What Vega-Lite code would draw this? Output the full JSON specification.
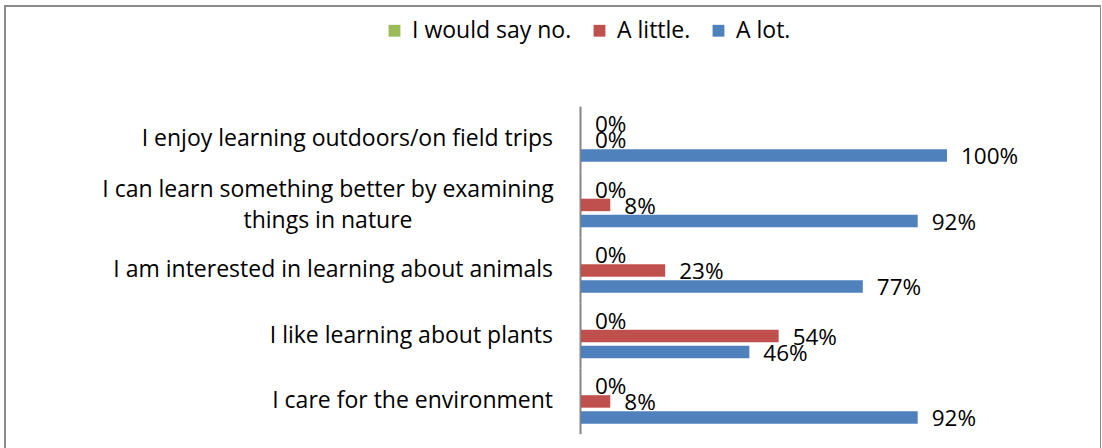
{
  "$schema": "https://vega.github.io/schema/vega-lite/v6.json",
  "width": 1096,
  "height": 450,
  "autosize": {"type": "none"},
  "padding": {"left": 5, "top": 6, "right": 0, "bottom": 0},
  "background": "white",
  "config": {
    "view": {"stroke": "#8c8c8c", "strokeWidth": 2},
    "font": "Open Sans",
    "text": {"color": "#000000"}
  },
  "data": {
    "values": [
      {"category": "I enjoy learning outdoors/on field trips", "series": "I would say no.", "value": 0},
      {"category": "I enjoy learning outdoors/on field trips", "series": "A little.", "value": 0},
      {"category": "I enjoy learning outdoors/on field trips", "series": "A lot.", "value": 1.0},
      {"category": "I can learn something better by examining\nthings in nature", "series": "I would say no.", "value": 0},
      {"category": "I can learn something better by examining\nthings in nature", "series": "A little.", "value": 0.08},
      {"category": "I can learn something better by examining\nthings in nature", "series": "A lot.", "value": 0.92},
      {"category": "I am interested in learning about animals", "series": "I would say no.", "value": 0},
      {"category": "I am interested in learning about animals", "series": "A little.", "value": 0.23},
      {"category": "I am interested in learning about animals", "series": "A lot.", "value": 0.77},
      {"category": "I like learning about plants", "series": "I would say no.", "value": 0},
      {"category": "I like learning about plants", "series": "A little.", "value": 0.54},
      {"category": "I like learning about plants", "series": "A lot.", "value": 0.46},
      {"category": "I care for the environment", "series": "I would say no.", "value": 0},
      {"category": "I care for the environment", "series": "A little.", "value": 0.08},
      {"category": "I care for the environment", "series": "A lot.", "value": 0.92}
    ]
  },
  "encoding": {
    "y": {
      "field": "category",
      "type": "nominal",
      "sort": null,
      "scale": {"paddingInner": 0, "paddingOuter": 0.935, "align": 0.822},
      "axis": null
    },
    "x": {
      "field": "value",
      "type": "quantitative",
      "scale": {"domain": [-1.5738, 1.4208], "nice": false, "zero": false},
      "axis": null
    }
  },
  "layer": [
    {
      "transform": [{"filter": "datum.series == 'A lot.'"}],
      "mark": {"type": "bar", "color": "#868686"},
      "encoding": {
        "x": {"datum": -0.0041, "type": "quantitative"},
        "x2": {"datum": 0.0014}
      }
    },
    {
      "layer": [
        {
          "mark": {"type": "bar"},
          "encoding": {
            "x2": {"datum": 0},
            "color": {
              "field": "series",
              "type": "nominal",
              "scale": {
                "domain": ["I would say no.", "A little.", "A lot."],
                "range": ["#9BBB59", "#C0504D", "#4F81BD"]
              },
              "legend": {
                "orient": "none",
                "legendX": 378,
                "legendY": 13,
                "padding": 0,
                "direction": "horizontal",
                "title": null,
                "symbolType": "square",
                "symbolSize": 140,
                "symbolStrokeWidth": 0,
                "labelFontSize": 23,
                "labelFont": "Open Sans",
                "labelColor": "#000000",
                "labelLimit": 0,
                "labelOffset": 6,
                "columnPadding": 16
              }
            }
          }
        },
        {
          "mark": {"type": "text", "align": "left", "baseline": "middle", "dx": 14, "dy": 2, "fontSize": 22.5},
          "encoding": {
            "text": {"field": "value", "type": "quantitative", "format": ".0%"}
          }
        }
      ],
      "encoding": {
        "yOffset": {
          "field": "series",
          "type": "nominal",
          "sort": ["I would say no.", "A little.", "A lot."],
          "scale": {"paddingInner": 0.22, "paddingOuter": 0.655}
        }
      }
    },
    {
      "transform": [{"filter": "datum.series == 'A lot.' && indexof(datum.category, '\\n') < 0"}],
      "mark": {"type": "text", "align": "right", "baseline": "middle", "dx": -28, "fontSize": 23},
      "encoding": {
        "x": {"datum": 0, "type": "quantitative"},
        "text": {"field": "category"}
      }
    },
    {
      "transform": [{"filter": "datum.series == 'A lot.' && indexof(datum.category, '\\n') >= 0"}],
      "mark": {"type": "text", "align": "center", "baseline": "middle", "dx": -253, "dy": -15, "fontSize": 23, "lineBreak": "\n", "lineHeight": 31},
      "encoding": {
        "x": {"datum": 0, "type": "quantitative"},
        "text": {"field": "category"}
      }
    }
  ]
}
